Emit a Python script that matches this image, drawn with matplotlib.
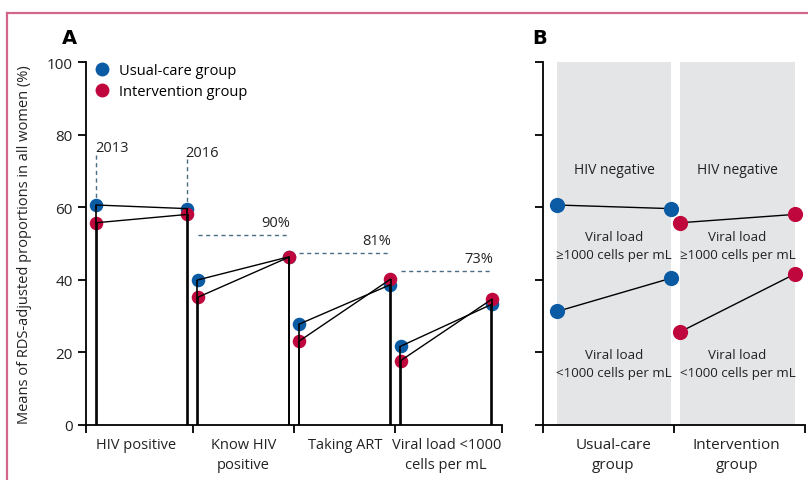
import matplotlib.pyplot as plt
from matplotlib.lines import Line2D
import numpy as np

plt.rcParams['font.family'] = ['Open Sans', 'DejaVu Sans']
plt.rcParams['font.size'] = 10

BLUE = '#0b5ba4'
RED = '#c0073d'
DASH = '#4a6c84'
GREY = '#e4e5e7'
TXT = '#222222'

# Panel A: cascade, 2013 vs 2016
categories = ['HIV positive', 'Know HIV\npositive', 'Taking ART', 'Viral load <1000\ncells per mL']
usual_2013 = [60.6, 39.9, 27.7, 21.6]
usual_2016 = [59.6, 46.3, 38.6, 33.2]
interv_2013 = [55.7, 35.1, 23.0, 17.6]
interv_2016 = [58.0, 46.2, 40.1, 34.6]
target_labels = ['90%', '81%', '73%']
target_levels = [52.4, 47.3, 42.5]

# Panel B: HIV status / viral load by group
groups = ['Usual-care\ngroup', 'Intervention\ngroup']
hiv_neg_2013 = [60.6, 55.7]
hiv_neg_2016 = [59.6, 58.0]
vl_low_2013 = [31.2, 25.6]
vl_low_2016 = [40.4, 41.5]

W, H = 808, 481
fig = plt.figure(figsize=(W / 100, H / 100), dpi=100)


def px_axes(x0, x1, y_top, y_bot):
    return fig.add_axes([x0 / W, (H - y_bot) / H, (x1 - x0) / W, (y_bot - y_top) / H])


def style(ax):
    for s in ['top', 'right']:
        ax.spines[s].set_visible(False)
    for s in ['left', 'bottom']:
        ax.spines[s].set_linewidth(1.3)
    ax.tick_params(which='major', length=6, width=1.3, direction='out')
    ax.set_ylim(0, 100)
    ax.set_yticks(np.arange(0, 101, 20))


# ---------------------------------------------------------------- panel A
ax = px_axes(86, 502, 63.3, 425.5)
style(ax)
ax.set_xlim(-0.55, 3.55)
x13 = np.arange(len(categories)) - 0.45
x16 = np.arange(len(categories)) + 0.45

for xs, ys_u, ys_i in [(x13, usual_2013, interv_2013), (x16, usual_2016, interv_2016)]:
    ax.vlines(xs - 0.004, 0, ys_u, color='black', lw=1.2, zorder=3)
    ax.vlines(xs + 0.004, 0, ys_i, color='black', lw=1.2, zorder=3)
    ax.scatter(xs, ys_u, s=95, color=BLUE, zorder=2, linewidths=0)
    ax.scatter(xs, ys_i, s=95, color=RED, zorder=2, linewidths=0)

for i in range(len(categories)):
    ax.plot([x13[i], x16[i]], [usual_2013[i], usual_2016[i]], color='black', lw=1.0, zorder=4)
    ax.plot([x13[i], x16[i]], [interv_2013[i], interv_2016[i]], color='black', lw=1.0, zorder=4)

# year markers
ax.plot([x13[0], x13[0]], [usual_2013[0], 75.0], ls=(0, (3, 2.5)), color=DASH, lw=1.0, zorder=1)
ax.plot([x16[0], x16[0]], [usual_2016[0], 73.3], ls=(0, (3, 2.5)), color=DASH, lw=1.0, zorder=1)
ax.text(x13[0] - 0.005, 76.6, '2013', ha='left', va='center', fontsize=10.5, color=TXT)
ax.text(x16[0] - 0.02, 75.0, '2016', ha='left', va='center', fontsize=10.5, color=TXT)

# targets
for j, (lab, lev) in enumerate(zip(target_labels, target_levels)):
    k = j + 1
    ax.plot([x13[k], x16[k]], [lev, lev], ls=(0, (3, 2.5)), color=DASH, lw=1.0, zorder=1)
    ax.text(x16[k] + 0.01, lev + 1.3, lab, ha='right', va='bottom', fontsize=10.5, color=TXT)

ax.set_xticks([-0.55, 0.5, 1.5, 2.5, 3.55])
ax.set_xticklabels([])
ax.set_xticks([-0.06, 1, 2, 3], minor=True)
ax.set_xticklabels(categories, minor=True, fontsize=10.5, color=TXT, linespacing=1.45)
ax.tick_params(axis='x', which='minor', length=0, pad=9)
ax.tick_params(axis='y', labelsize=11)
ax.tick_params(axis='both', colors='black', which='major', labelcolor=TXT)
ax.set_ylabel('Means of RDS-adjusted proportions in all women (%)', fontsize=10.5,
              color=TXT, labelpad=11)

handles = [Line2D([], [], ls='', marker='o', ms=10, color=BLUE, mec='none'),
           Line2D([], [], ls='', marker='o', ms=10, color=RED, mec='none')]
ax.legend(handles, ['Usual-care group', 'Intervention group'], loc='upper left',
          bbox_to_anchor=(-0.02, 1.025), frameon=False, handletextpad=0.15,
          labelspacing=0.4, fontsize=10.5, borderaxespad=0.3)

fig.text(62 / W, 1 - 38 / H, 'A', fontsize=14, fontweight='bold', va='center',
         family='DejaVu Sans')

# ---------------------------------------------------------------- panel B
bx = px_axes(542.5, 805, 63.3, 425.5)
style(bx)
bx.set_xlim(0, 2)
lo = np.array([0.11, 1.05])
hi = np.array([0.98, 1.92])
for i in range(len(groups)):
    bx.axvspan(lo[i], hi[i], color=GREY, lw=0, zorder=0)
    col = BLUE if i == 0 else RED
    bx.plot([lo[i], hi[i]], [hiv_neg_2013[i], hiv_neg_2016[i]], color='black', lw=1.0, zorder=2)
    bx.plot([lo[i], hi[i]], [vl_low_2013[i], vl_low_2016[i]], color='black', lw=1.0, zorder=2)
    bx.scatter([lo[i], hi[i]], [hiv_neg_2013[i], hiv_neg_2016[i]], s=120, color=col,
               zorder=3, linewidths=0, clip_on=False)
    bx.scatter([lo[i], hi[i]], [vl_low_2013[i], vl_low_2016[i]], s=120, color=col,
               zorder=3, linewidths=0, clip_on=False)
    cx = (lo[i] + hi[i]) / 2
    bx.text(cx, 70.3, 'HIV negative', ha='center', va='center', fontsize=10, color=TXT)
    bx.text(cx, 49.4, 'Viral load\n≥1000 cells per mL', ha='center', va='center',
            fontsize=9.6, color=TXT, linespacing=1.45)
    bx.text(cx, 16.9, 'Viral load\n<1000 cells per mL', ha='center', va='center',
            fontsize=9.6, color=TXT, linespacing=1.45)

bx.set_yticklabels([])
bx.set_xticks([0, 1, 2])
bx.set_xticklabels([])
bx.set_xticks([0.54, 1.48], minor=True)
bx.set_xticklabels(groups, minor=True, fontsize=11, color=TXT, linespacing=1.45)
bx.tick_params(axis='x', which='minor', length=0, pad=9)

fig.text(532 / W, 1 - 38 / H, 'B', fontsize=14, fontweight='bold', va='center',
         family='DejaVu Sans')

# frame
border = '#d2678b'
fig.add_artist(Line2D([7 / W, 1], [1 - 14 / H, 1 - 14 / H], color=border, lw=1.6))
fig.add_artist(Line2D([7 / W, 7 / W], [0, 1 - 14 / H], color=border, lw=1.6))

fig.savefig('out.png', dpi=100)
